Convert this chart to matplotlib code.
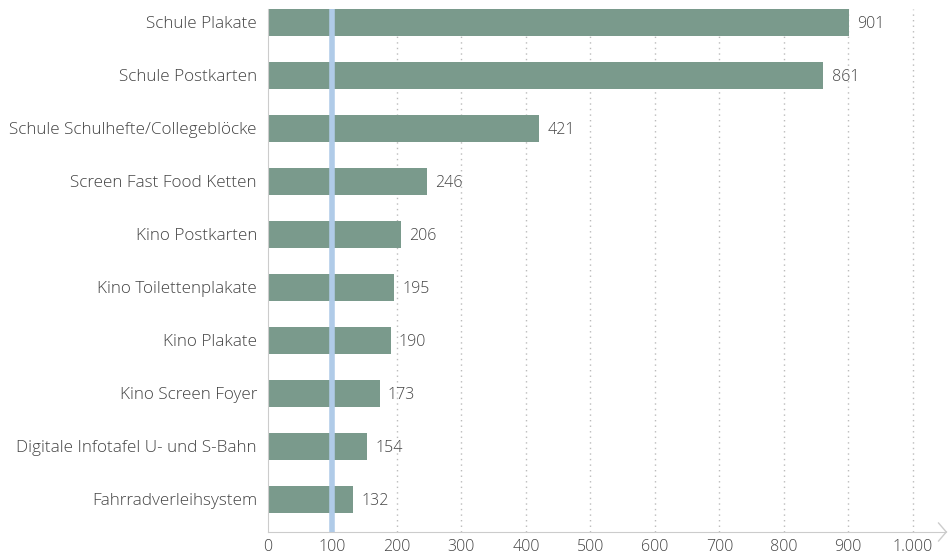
import matplotlib.pyplot as plt

plt.rcParams['font.family'] = ['Open Sans', 'DejaVu Sans']

categories = ['Schule Plakate', 'Schule Postkarten', 'Schule Schulhefte/Collegeblöcke',
              'Screen Fast Food Ketten', 'Kino Postkarten', 'Kino Toilettenplakate',
              'Kino Plakate', 'Kino Screen Foyer', 'Digitale Infotafel U- und S-Bahn',
              'Fahrradverleihsystem']
values = [901, 861, 421, 246, 206, 195, 190, 173, 154, 132]
xticks = [0, 100, 200, 300, 400, 500, 600, 700, 800, 900, 1000]
xtick_labels = ['0', '100', '200', '300', '400', '500', '600', '700', '800', '900', '1.000']
ref_value = 100

txt = '#444444'

fig = plt.figure(figsize=(9.52, 5.55), dpi=100)
ax = fig.add_axes([268 / 952, 23 / 555, 677 / 952, 523 / 555])

y = list(range(len(categories)))
ax.barh(y, values, height=0.51, color='#7a9a8c', zorder=2)
for yi, v in zip(y, values):
    ax.text(v + 13, yi + 0.03, str(v), va='center', ha='left', fontsize=11.5,
            color=txt, fontweight='light')

# dotted grid lines
for t in xticks[2:]:
    ax.axvline(t, color='#bbbbbb', linestyle=(0, (1, 3)), linewidth=1, zorder=1)

# reference line
ax.axvline(ref_value, color='#b0cbe8', linewidth=4, zorder=3)

ax.set_xlim(0, 1050)
ax.set_ylim(9.62, -0.25)
ax.set_yticks(y)
ax.set_yticklabels(categories, fontsize=12.3, color=txt, fontweight='light')
ax.set_xticks(xticks)
ax.set_xticklabels(xtick_labels, fontsize=11.5, color=txt, fontweight='light')
ax.tick_params(axis='both', length=0)
ax.tick_params(axis='y', pad=8)
ax.tick_params(axis='x', pad=5)

for s in ['top', 'right']:
    ax.spines[s].set_visible(False)
ax.spines['left'].set_color('#cccccc')
ax.spines['bottom'].set_color('#cccccc')

# arrow tip at the end of the x axis
ax.plot([1040, 1052], [9.62 - 0.17, 9.62], color='#cccccc', lw=1, clip_on=False)
ax.plot([1040, 1052], [9.62 + 0.17, 9.62], color='#cccccc', lw=1, clip_on=False)

fig.savefig('out.png', dpi=100)
